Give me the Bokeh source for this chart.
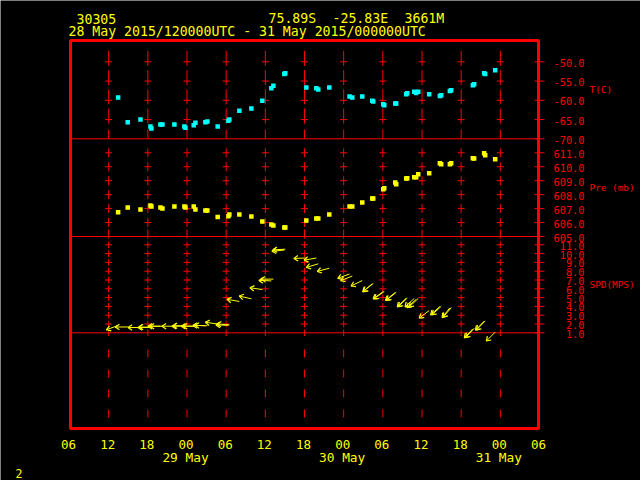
import math
from bokeh.plotting import figure
from bokeh.models import Range1d
from bokeh.core.properties import value
from bokeh.embed import file_html
from bokeh.resources import INLINE

# ------------------------------------------------------------------ data
station_id = "30305"
station_loc = ["75.89S", "-25.83E", "3661M"]
period_text = "28 May 2015/120000UTC - 31 May 2015/000000UTC"
page_number = "2"

# observation times, hours since 2015-05-28 00 UTC
obs_hours = [13.45, 14.92, 16.87, 18.40, 18.55, 19.93, 20.24, 22.07, 23.60, 23.76,
             25.03, 25.29, 26.82, 27.12, 28.70, 30.34, 30.49, 32.02, 33.86, 35.54,
             36.92, 37.23, 38.91, 39.06, 42.28, 43.81, 44.11, 45.80, 48.90, 49.32,
             50.85, 52.38, 52.53, 54.06, 54.22, 55.90, 56.05, 57.58, 57.74, 58.81,
             59.11, 59.42, 61.10, 62.74, 62.94, 64.27, 64.47, 67.79, 67.99, 69.52,
             69.68, 71.21]
temperature_c = [-59.3, -65.7, -65.0, -66.8, -67.3, -66.3, -66.3, -66.3, -66.8, -67.1,
                 -66.5, -65.8, -65.7, -65.5, -66.8, -65.3, -65.0, -62.7, -62.1, -60.1,
                 -56.9, -56.2, -53.2, -53.0, -56.7, -56.9, -57.2, -56.7, -59.0, -59.3,
                 -59.0, -60.1, -60.3, -61.0, -61.3, -60.8, -60.8, -58.4, -58.2, -57.8,
                 -58.1, -57.8, -58.4, -58.9, -58.7, -57.6, -57.4, -56.1, -55.8, -53.0,
                 -53.2, -52.2]
pressure_mb = [606.74, 607.08, 606.94, 607.22, 607.15, 607.08, 607.00, 607.15, 607.15, 607.08,
               607.15, 606.94, 606.86, 606.86, 606.40, 606.46, 606.58, 606.58, 606.43, 606.08,
               605.86, 605.79, 605.65, 605.65, 606.15, 606.29, 606.29, 606.58, 607.15, 607.15,
               607.44, 607.72, 607.72, 608.39, 608.46, 608.87, 608.75, 609.16, 609.18, 609.25,
               609.25, 609.47, 609.54, 610.25, 610.18, 610.18, 610.25, 610.61, 610.59, 610.97,
               610.83, 610.54]
wind_speed_mps = [1.83, 1.66, 1.60, 1.60, 1.65, 1.75, 1.75, 1.75, 1.75, 1.80,
                  1.75, 1.75, 1.80, 1.80, 2.00, 1.85, 1.90, 4.56, 4.86, 5.92,
                  6.90, 7.10, 10.40, 10.50, 9.50, 9.50, 8.84, 8.34, 7.68, 7.45,
                  6.94, 6.57, 6.60, 5.69, 5.70, 5.58, 5.60, 4.93, 4.95, 4.90,
                  4.80, 4.90, 3.53, 3.99, 4.00, 3.84, 3.85, 1.45, 1.50, 2.32,
                  2.35, 1.07]
wind_dir_deg = [70, 90, 90, 90, 90, 90, 90, 90, 90, 90,
                90, 90, 92, 92, 98, 92, 95, 100, 103, 98,
                92, 90, 85, 87, 88, 80, 73, 75, 70, 68,
                64, 50, 52, 54, 54, 51, 51, 46, 46, 48,
                48, 47, 53, 48, 48, 38, 40, 43, 43, 44,
                44, 45]

hour_ticks = [6, 12, 18, 24, 30, 36, 42, 48, 54, 60, 66, 72, 78]
hour_labels = ["06", "12", "18", "00", "06", "12", "18", "00", "06", "12", "18", "00", "06"]
date_ticks = [24, 48, 72]
date_labels = ["29 May", "30 May", "31 May"]
grid_hours = [12, 18, 24, 30, 36, 42, 48, 54, 60, 66, 72]
temp_ticks = [-70, -65, -60, -55, -50]
pres_ticks = [605, 606, 607, 608, 609, 610, 611]
spd_ticks = [1, 2, 3, 4, 5, 6, 7, 8, 9, 10, 11]
panel_names = ["T(C)", "Pre (mb)", "SPD(MPS)"]

# ------------------------------------------------------------------ layout
RED, YEL, CYAN = "#ff0000", "#ffff00", "#00ffff"
MONO = "DejaVu Sans Mono"
W, H = 640, 480
X_START, X_END = 6, 78            # plotted period (hours)
PX_L, PX_R = 69, 539              # pixel columns of X_START / X_END
PX_PER_H = (PX_R - PX_L) / (X_END - X_START)


def make_range(anchor_val, anchor_px, px_per_unit):
    return Range1d(anchor_val - (H - anchor_px) / px_per_unit, anchor_val + anchor_px / px_per_unit)


t_range = make_range(-70, 138.3, 3.85)
p_range = make_range(605, 236.0, 13.95)
s_range = make_range(1, 332.3, 8.8)


def px_per(rng):
    return H / (rng.end - rng.start)


def x_at(px):
    return X_START + (px - PX_L) / PX_PER_H


def y_at(py, rng):
    return rng.start + (H - py) / px_per(rng)


p = figure(width=W, height=H, x_range=Range1d(x_at(0), x_at(W)), y_range=t_range,
           x_axis_type=None, y_axis_type=None, toolbar_location=None, tools="",
           output_backend="svg", background_fill_color="black", border_fill_color="black",
           outline_line_color=None, min_border=0)
p.extra_y_ranges = {"pres": p_range, "spd": s_range}

# ---------------------------------------------------------- grid (dashes + crosses)
def grid_pieces(ticks, rng, up_px, down_px):
    xs, y0, y1 = [], [], []
    k = px_per(rng)
    for gx in grid_hours:
        for v in ticks:
            xs.append(gx)
            y0.append(v - down_px / k)
            y1.append(v + up_px / k)
    return xs, y0, y1

for ticks, rng, name, up, down in [
        (temp_ticks[1:], t_range, "default", 11, 4),
        (temp_ticks[:1], t_range, "default", 9.3, 0),
        (pres_ticks[1:], p_range, "pres", 4.5, 4.5),
        (pres_ticks[:1], p_range, "pres", 7, 2),
        (spd_ticks, s_range, "spd", 3.3, 3.3)]:
    xs, y0, y1 = grid_pieces(ticks, rng, up, down)
    p.segment(x0=xs, y0=y0, x1=xs, y1=y1, y_range_name=name, line_color=RED, line_width=1)

p.segment(x0=grid_hours, x1=grid_hours,
          y0=[y_at(349, s_range)] * len(grid_hours), y1=[y_at(420, s_range)] * len(grid_hours),
          y_range_name="spd", line_color=RED, line_width=1, line_dash="8 12")

for ticks, name in [(temp_ticks[1:], "default"), (pres_ticks[1:], "pres"), (spd_ticks[1:], "spd")]:
    cx = [gx for gx in grid_hours for _ in ticks]
    cy = [v for _ in grid_hours for v in ticks]
    p.scatter(cx, cy, marker="dash", size=7, line_color=RED, line_width=1, y_range_name=name)

# panel separators
for v, name in [(temp_ticks[0], "default"), (pres_ticks[0], "pres"), (spd_ticks[0], "spd")]:
    p.segment(x0=[X_START], x1=[X_END], y0=[v], y1=[v], y_range_name=name,
              line_color=RED, line_width=1)

# outer frame
p.quad(left=[x_at(70)], right=[x_at(538)], bottom=[y_at(428, t_range)], top=[y_at(40, t_range)],
       fill_color=None, line_color=RED, line_width=3)

# right-hand ticks and labels
for ticks, rng, name in [(temp_ticks, t_range, "default"), (pres_ticks, p_range, "pres"),
                         (spd_ticks, s_range, "spd")]:
    n = len(ticks)
    p.segment(x0=[x_at(534)] * n, x1=[x_at(544)] * n, y0=ticks, y1=ticks, y_range_name=name,
              line_color=RED, line_width=1)
    p.text(x=[x_at(584)] * n, y=ticks, text=[f"{v:.1f}" for v in ticks], y_range_name=name,
           text_color=RED, text_font=value(MONO), text_font_size=value("10.3px"),
           text_align="right", text_baseline="middle", y_offset=1)

# panel names (vertically centred in each panel)
panel_mid = [((-70 + y_at(40, t_range)) / 2, "default"), (608.5, "pres"), (6.5, "spd")]
for txt, (ym, name) in zip(panel_names, panel_mid):
    p.text(x=[x_at(589)], y=[ym], text=[txt], y_range_name=name, text_color=RED,
           text_font=value(MONO), text_font_size=value("9.4px"), text_align="left",
           text_baseline="middle", y_offset=0)

# ---------------------------------------------------------- data marks
p.scatter(obs_hours, temperature_c, marker="square", size=4.5, fill_color=CYAN, line_color=None)
p.scatter(obs_hours, pressure_mb, marker="square", size=4.5, fill_color=YEL, line_color=None,
          y_range_name="pres")

L_ARROW, L_HEAD, HEAD_ANG = 12.5, 5, math.radians(33)
tip_x, tip_y, head_x, head_y, head_ang = [], [], [], [], []
for t, s, d in zip(obs_hours, wind_speed_mps, wind_dir_deg):
    th = math.radians(-90 - d)        # direction the wind blows toward
    tx = t + L_ARROW * math.cos(th) / PX_PER_H
    ty = s + L_ARROW * math.sin(th) / px_per(s_range)
    tip_x.append(tx)
    tip_y.append(ty)
    for a in (th + math.pi + HEAD_ANG, th + math.pi - HEAD_ANG):
        head_x.append(tx)
        head_y.append(ty)
        head_ang.append(a)
p.segment(x0=obs_hours, y0=wind_speed_mps, x1=tip_x, y1=tip_y, y_range_name="spd",
          line_color=YEL, line_width=1)
p.ray(x=head_x, y=head_y, length=L_HEAD, length_units="screen", angle=head_ang,
      y_range_name="spd", line_color=YEL, line_width=1.2)

# ---------------------------------------------------------- time axis labels
p.text(x=hour_ticks, y=[y_at(443.7, t_range)] * len(hour_ticks), text=hour_labels,
       text_color=YEL, text_font=value(MONO), text_font_size=value("12.5px"),
       text_align="center", text_baseline="middle", x_offset=-1)
p.text(x=date_ticks, y=[y_at(457, t_range)] * len(date_ticks), text=date_labels,
       text_color=YEL, text_font=value(MONO), text_font_size=value("12.8px"),
       text_align="center", text_baseline="middle", x_offset=-1.5)

# ---------------------------------------------------------- header / footer texts
texts = [(station_id, 76, 18, "13.2px"),
         (station_loc[0], 268, 18, "13.2px"),
         (station_loc[1], 332, 18, "13.2px"),
         (station_loc[2], 404, 18, "13.2px"),
         (period_text, 68, 31.3, "13.2px"),
         (page_number, 15, 472.5, "11.5px")]
for txt, px, py, fs in texts:
    p.text(x=[x_at(px)], y=[y_at(py, t_range)], text=[txt], text_color=YEL,
           text_font=value(MONO), text_font_size=value(fs), text_align="left",
           text_baseline="middle")

html = file_html(p, INLINE, title="30305 meteogram")
html = html.replace("<body>", '<body style="background-color:#000000;">', 1)
open("out.html", "w").write(html)
